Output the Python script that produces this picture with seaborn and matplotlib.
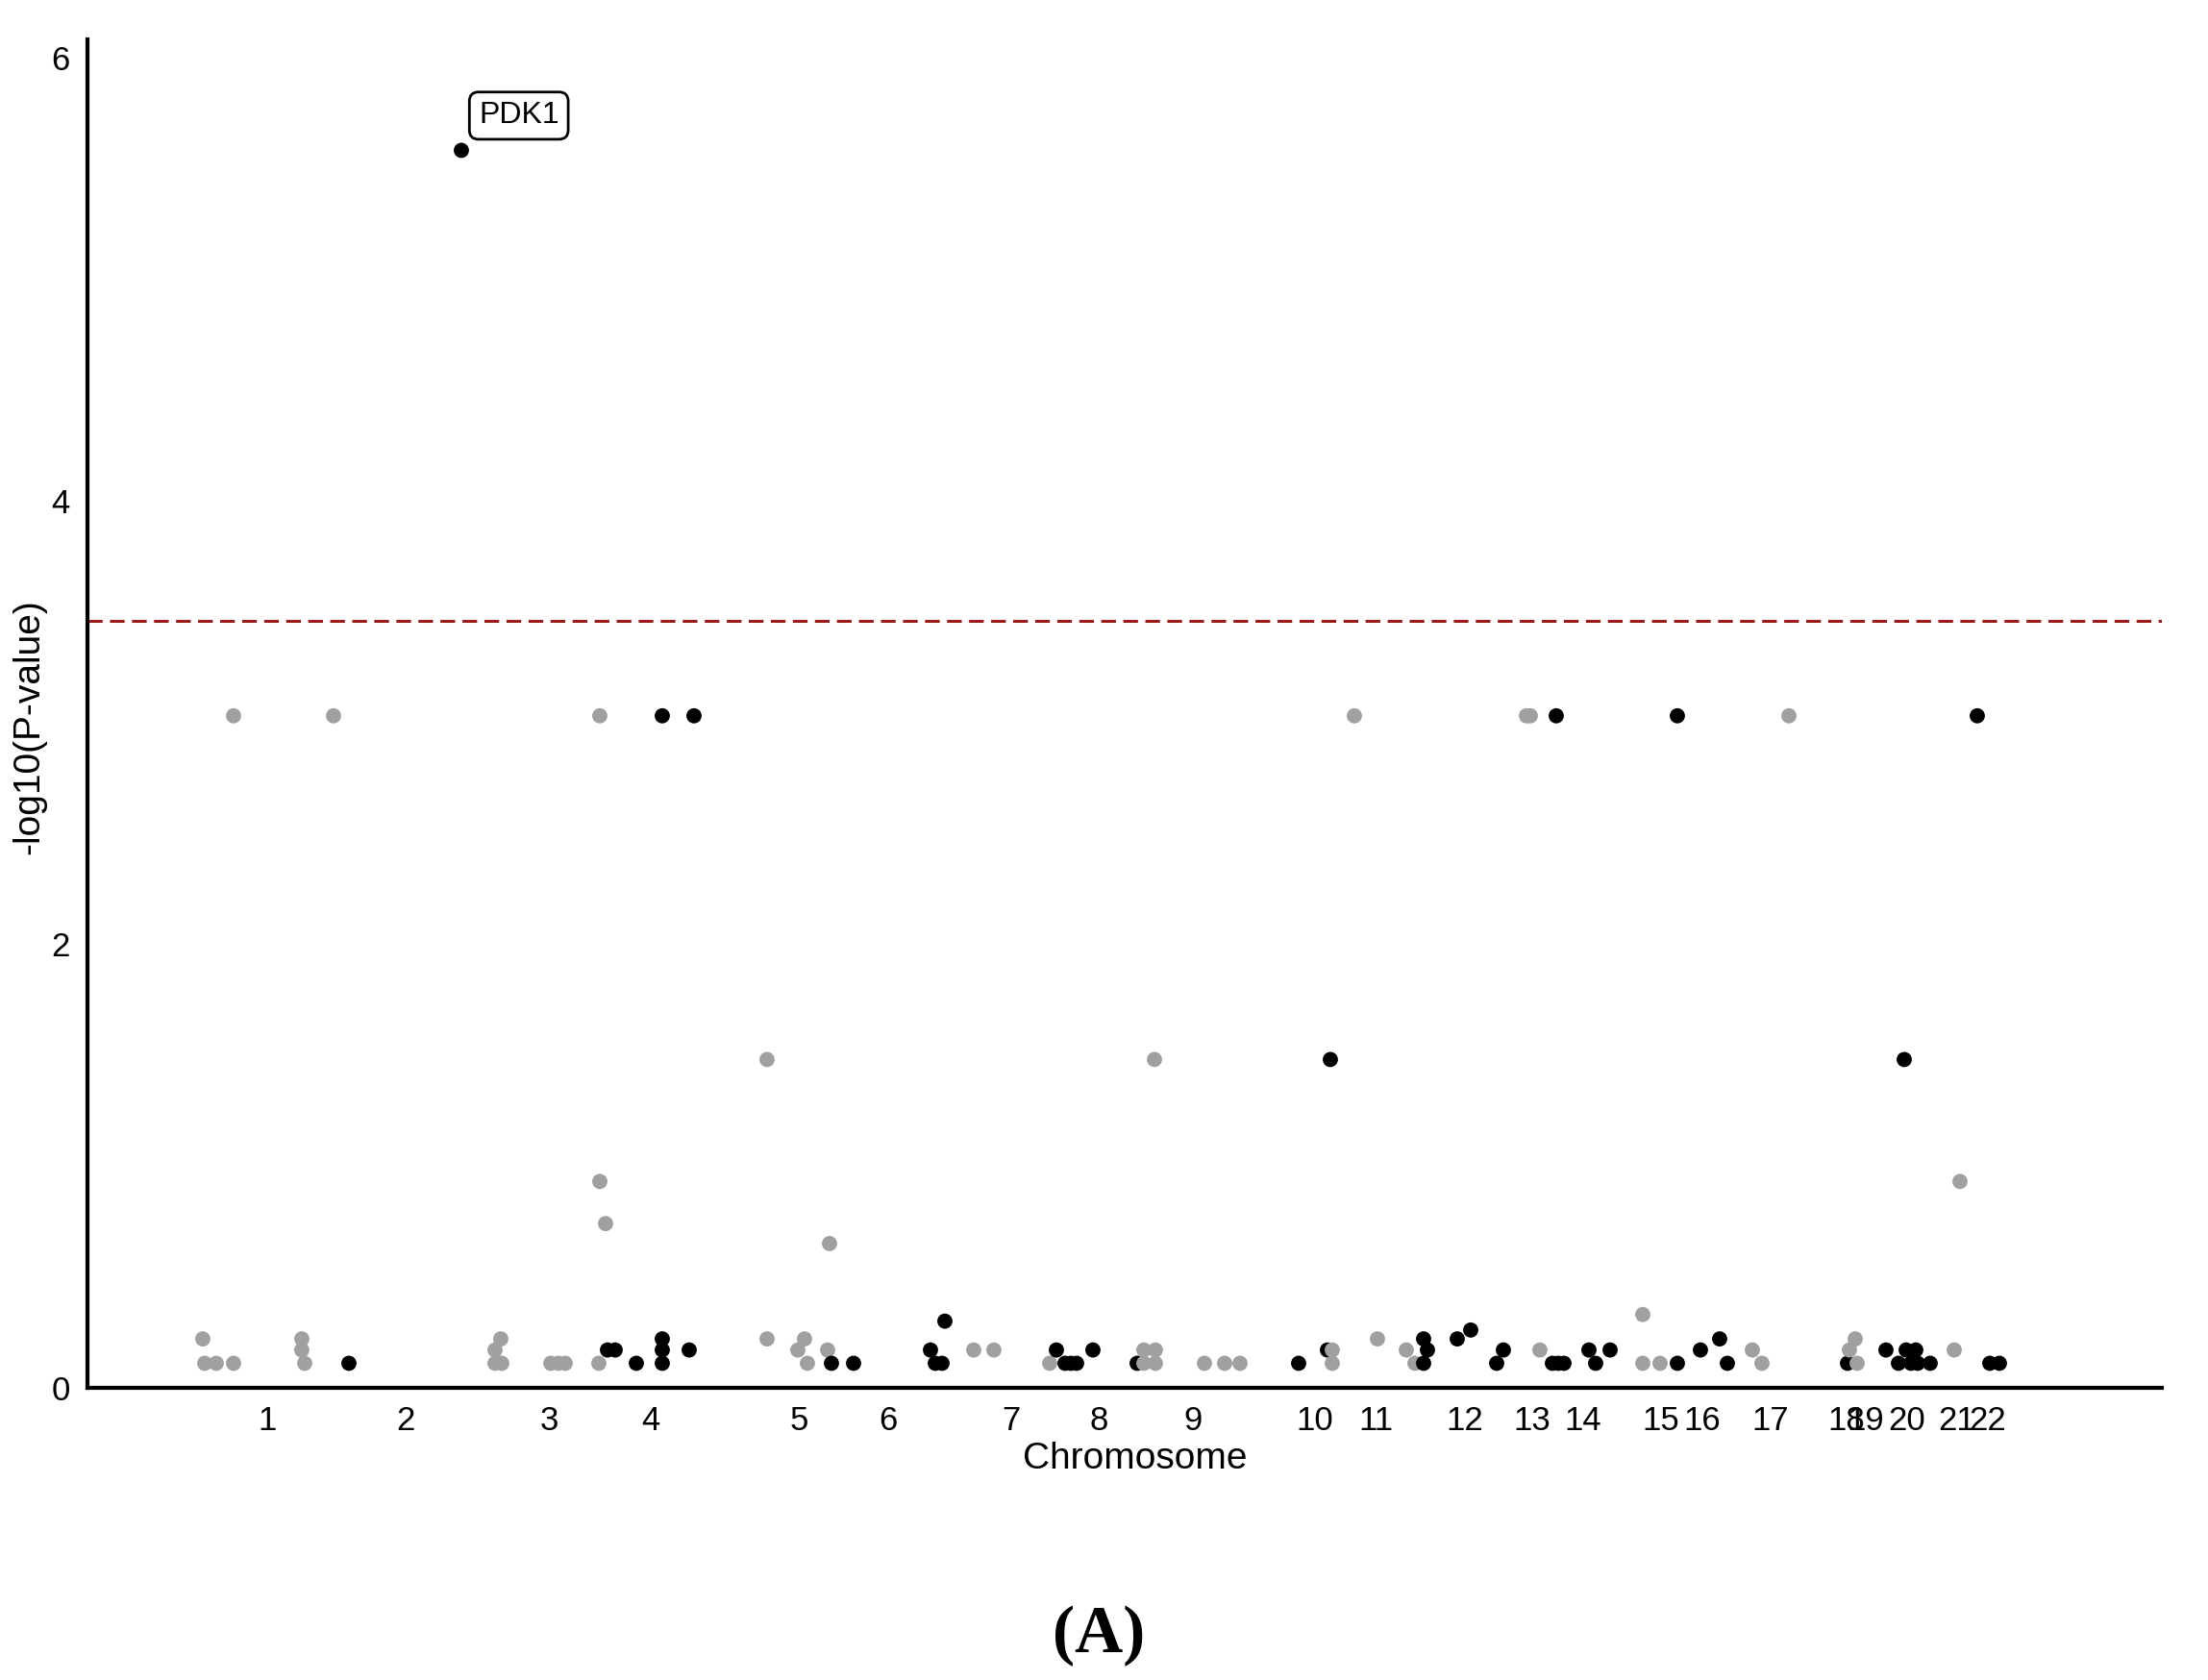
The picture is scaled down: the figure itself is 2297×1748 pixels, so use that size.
import pandas as pd
import matplotlib
matplotlib.use("Agg")
import matplotlib.pyplot as plt
import seaborn as sns

# chromosome of each SNP/gene, cumulative position and -log10(p)
chrom = [1] * 9 + [2] * 2 + [3] * 11 + [4] * 9 + [5] * 7 + [6] * 6 + [7] * 3 + [8] * 6 \
    + [9] * 8 + [10] * 3 + [11] * 6 + [12] * 7 + [13] * 3 + [14] * 7 + [15] * 3 + [16] * 5 \
    + [17] * 3 + [18] * 1 + [19] * 3 + [20] * 8 + [21] * 2 + [22] * 3
pos = [120, 122, 134, 152, 152, 223, 223, 226, 256,
       272, 389,
       424, 424, 430, 431, 482, 490, 497, 532, 533, 533, 539,
       541, 549, 571, 598, 598, 598, 598, 626, 631,
       707, 707, 739, 746, 749, 770, 772,
       774, 797, 877, 882, 889, 892,
       922, 943, 1001,
       1008, 1017, 1023, 1029, 1046, 1092,
       1099, 1111, 1099, 1111, 1110, 1162, 1183, 1199,
       1260, 1290, 1293,
       1295, 1295, 1318, 1342, 1372, 1381,
       1390, 1394, 1390, 1425, 1439, 1466, 1473,
       1497, 1501, 1511,
       1524, 1530, 1536, 1528, 1562, 1569, 1584,
       1618, 1618, 1636,
       1654, 1654, 1678, 1698, 1706,
       1732, 1742, 1770,
       1831,
       1833, 1839, 1841,
       1871, 1884, 1890, 1892, 1897, 1902, 1904, 1917,
       1942, 1948,
       1966, 1979, 1989]
logp = [0.22, 0.11, 0.11, 0.11, 3.03, 0.22, 0.17, 0.11, 3.03,
        0.11, 5.58,
        0.17, 0.11, 0.22, 0.11, 0.11, 0.11, 0.11, 0.11, 3.03, 0.93, 0.74,
        0.17, 0.17, 0.11, 0.22, 0.17, 0.11, 3.03, 0.17, 3.03,
        0.22, 1.48, 0.17, 0.22, 0.11, 0.17, 0.65,
        0.11, 0.11, 0.17, 0.11, 0.11, 0.30,
        0.17, 0.17, 0.11,
        0.17, 0.11, 0.11, 0.11, 0.17, 0.11,
        0.17, 0.17, 0.11, 0.11, 1.48, 0.11, 0.11, 0.11,
        0.11, 0.17, 1.48,
        0.17, 0.11, 3.03, 0.22, 0.17, 0.11,
        0.22, 0.17, 0.11, 0.22, 0.26, 0.11, 0.17,
        3.03, 3.03, 0.17,
        0.11, 0.11, 0.11, 3.03, 0.17, 0.11, 0.17,
        0.33, 0.11, 0.11,
        0.11, 3.03, 0.17, 0.22, 0.11,
        0.17, 0.11, 3.03,
        0.11,
        0.17, 0.22, 0.11,
        0.17, 0.11, 1.48, 0.17, 0.11, 0.17, 0.11, 0.11,
        0.17, 0.93,
        3.03, 0.11, 0.11]

chrom_labels = [str(i) for i in range(1, 23)]
chrom_centers = [187, 331, 480, 586, 740, 833, 961, 1052, 1150, 1277, 1340,
                 1433, 1503, 1556, 1637, 1680, 1751, 1830, 1850, 1893, 1945, 1977]
threshold = 3.46
top_gene = "PDK1"

df = pd.DataFrame({"chrom": chrom, "pos": pos, "logp": logp})
df["group"] = ["odd" if c % 2 else "even" for c in df["chrom"]]

sns.set_style("white")
plt.rcParams["font.family"] = ["Liberation Sans", "DejaVu Sans"]
plt.rcParams["text.color"] = "black"
plt.rcParams["axes.labelcolor"] = "black"
plt.rcParams["xtick.color"] = "black"
plt.rcParams["ytick.color"] = "black"

fig = plt.figure(figsize=(22.97, 17.48), dpi=100)
ax = fig.add_axes([0.0396, 0.174, 0.9395, 0.8025])

sns.scatterplot(data=df, x="pos", y="logp", hue="group",
                palette={"odd": "#a0a0a0", "even": "black"},
                s=130, linewidth=0, legend=False, ax=ax)

ax.axhline(threshold, color="#9b1b1b", linestyle=(0, (5, 2.5)), linewidth=2.2)

# label the top hit
best = df.loc[df["logp"].idxmax()]
ax.annotate(top_gene, xy=(best["pos"], best["logp"]), xytext=(43, 26),
            textcoords="offset points", ha="center", va="center", fontsize=23,
            bbox=dict(boxstyle="round,pad=0.3", fc="white", ec="black", lw=2))

ax.set_xlim(0, 2158)
ax.set_ylim(0, 6.08)
ax.set_xticks(chrom_centers)
ax.set_xticklabels(chrom_labels)
ax.set_yticks([0, 2, 4, 6])
ax.tick_params(axis="both", labelsize=25, length=9, width=2.5, pad=4)

ax.set_xlabel("Chromosome", fontsize=28, va="center")
ax.xaxis.set_label_coords(0.505, -0.053)
ax.set_ylabel("-log10(P-value)", fontsize=28, va="center")
ax.yaxis.set_label_coords(-0.028, 0.49)

sns.despine(ax=ax)
for side in ["left", "bottom"]:
    ax.spines[side].set_linewidth(3)
    ax.spines[side].set_color("black")

fig.text(0.4976, 0.026, "(A)", ha="center", va="center", fontsize=50,
         fontweight="bold", family="Liberation Serif", color="black")

fig.savefig("out.png", dpi=100)
